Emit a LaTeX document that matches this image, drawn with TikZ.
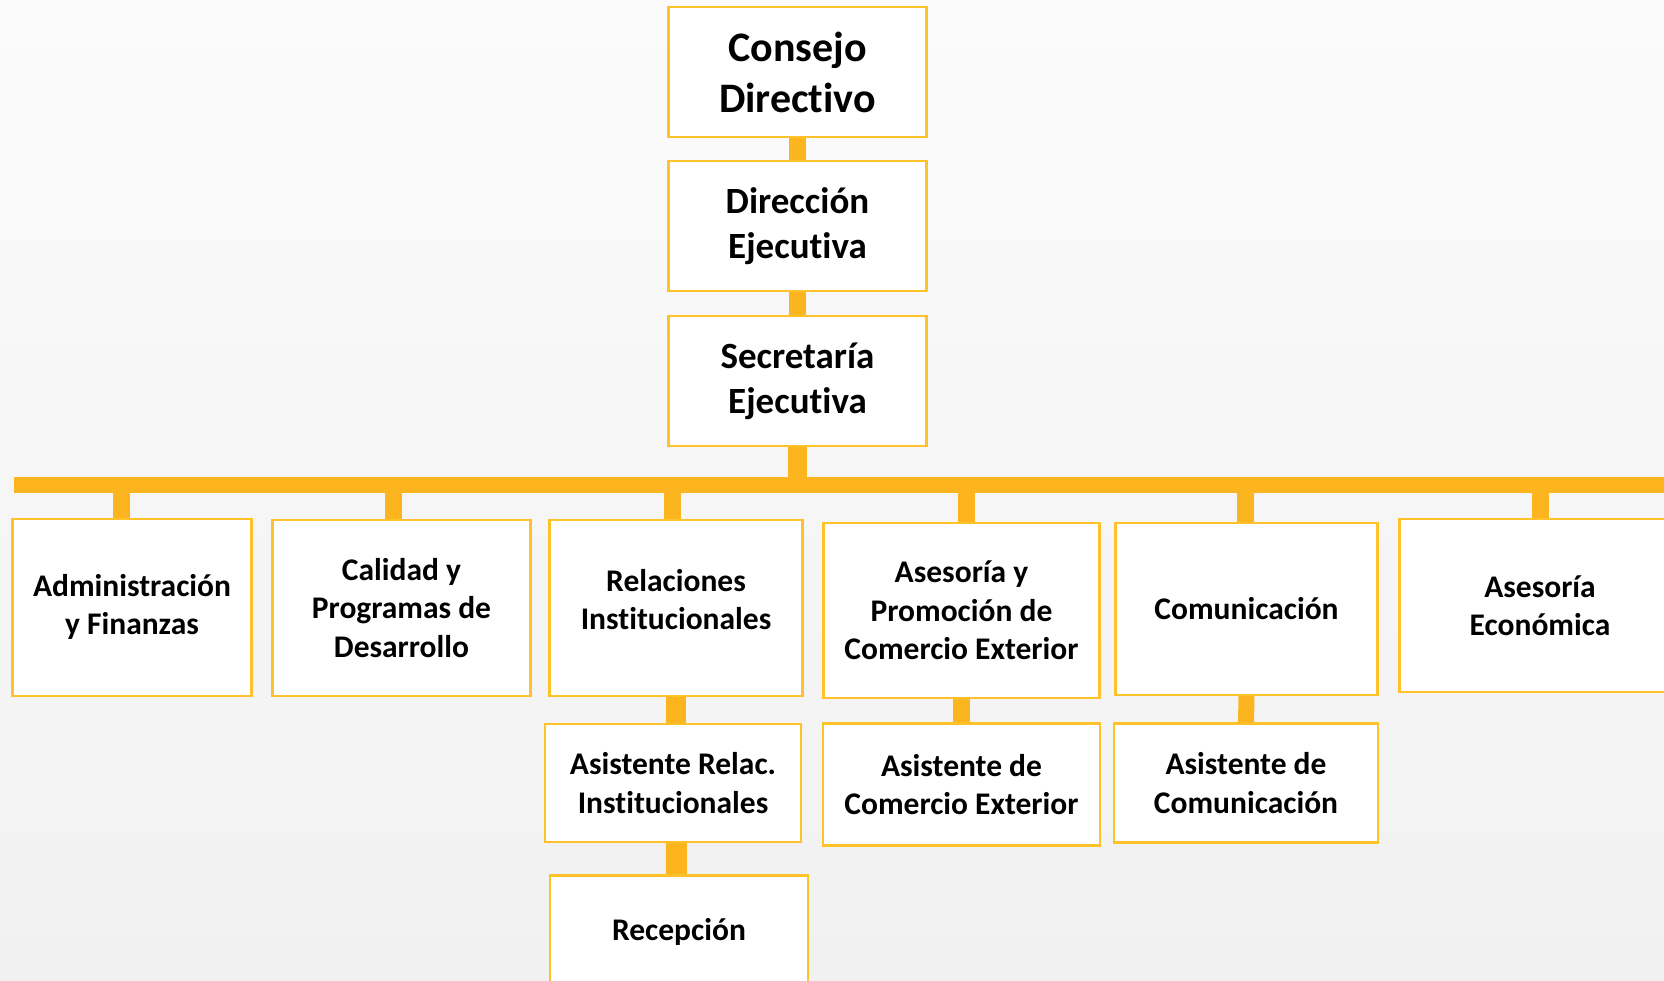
\documentclass[tikz,border=0pt]{standalone}
\usepackage{fontspec}
\setmainfont{Carlito}[Ligatures=NoCommon]
\definecolor{boxline}{HTML}{FFC22B}
\definecolor{barfill}{HTML}{FCB51E}
\definecolor{bgtop}{HTML}{FBFBFB}
\definecolor{bgbottom}{HTML}{F1F1F1}

\begin{document}
\begin{tikzpicture}[x=1pt,y=-1pt,
  unit/.style={draw=boxline, line width=2.2pt, fill=white, align=center, inner sep=0pt,
    font=\bfseries\fontsize{31.5}{38.5}\selectfont},
  head/.style={unit, minimum width=258pt, minimum height=130pt,
    font=\bfseries\fontsize{37}{45}\selectfont},
  link/.style={draw=barfill, line width=17pt}]
  % Page and background
  \useasboundingbox (0,0) rectangle (1664,980);
  \clip (0,0) rectangle (1664,980);
  \path[top color=bgtop, bottom color=bgbottom] (0,0) rectangle (1664,980);

  % Top of the chart
  \node[head, font=\bfseries\fontsize{42}{51}\selectfont] (consejo) at (797.5,72) {Consejo\\Directivo};
  \node[head] (direccion) at (797.5,226) {Dirección\\Ejecutiva};
  \node[head] (secretaria) at (797.5,381) {Secretaría\\Ejecutiva};
  \draw[link] (consejo.south) -- (direccion.north);
  \draw[link] (direccion.south) -- (secretaria.north);

  % Main horizontal bar
  \coordinate (barL) at (14,485);
  \coordinate (barR) at (1672,485);
  \draw[link, line width=16pt] (barL) -- (barR);
  \draw[link, line width=19pt] (secretaria.south) -- (secretaria.south |- barL);

  % Areas
  \node[unit, minimum width=239pt, minimum height=177pt, text depth=6pt] (admin) at (132,607.5) {Administración\\y Finanzas};
  \node[unit, minimum width=258pt, minimum height=176pt] (calidad) at (401.5,608) {Calidad y\\Programas de\\Desarrollo};
  \node[unit, minimum width=253pt, minimum height=176pt, text depth=17pt] (relaciones) at (676,608) {Relaciones\\Institucionales};
  \node[unit, minimum width=276pt, minimum height=175pt] (asesoria) at (961.5,610.5) {Asesoría y\\Promoción de\\Comercio Exterior};
  \node[unit, minimum width=262pt, minimum height=172pt] (comunicacion) at (1246.5,609) {Comunicación};
  \node[unit, minimum width=281pt, minimum height=173pt] (economica) at (1540,605.5) {Asesoría\\Económica};
  \foreach \b/\dx in {admin/-11, calidad/-8, relaciones/-4, asesoria/5, comunicacion/-1, economica/0}
    \draw[link] ([xshift=\dx]\b.north) -- ([xshift=\dx]\b.north |- barL);

  % Assistants
  \node[unit, minimum width=256pt, minimum height=118pt] (asisrel) at (673,783) {Asistente Relac.\\Institucionales};
  \node[unit, minimum width=277pt, minimum height=122pt] (asiscomex) at (961.5,784.5) {Asistente de\\Comercio Exterior};
  \node[unit, minimum width=264pt, minimum height=119pt] (asiscom) at (1246,783) {Asistente de\\Comunicación};
  \node[unit, minimum width=258pt, minimum height=113pt] (recepcion) at (679,932) {Recepción};
  \draw[link, line width=20pt] (relaciones.south) -- (relaciones.south |- asisrel.north);
  \draw[link, line width=21pt] (asisrel.south -| relaciones.south) -- (recepcion.north -| relaciones.south);
  \draw[link] (asesoria.south) -- (asiscomex.north);
  \draw[link, line width=16pt] (comunicacion.south) -- (asiscom.north);
\end{tikzpicture}
\end{document}
